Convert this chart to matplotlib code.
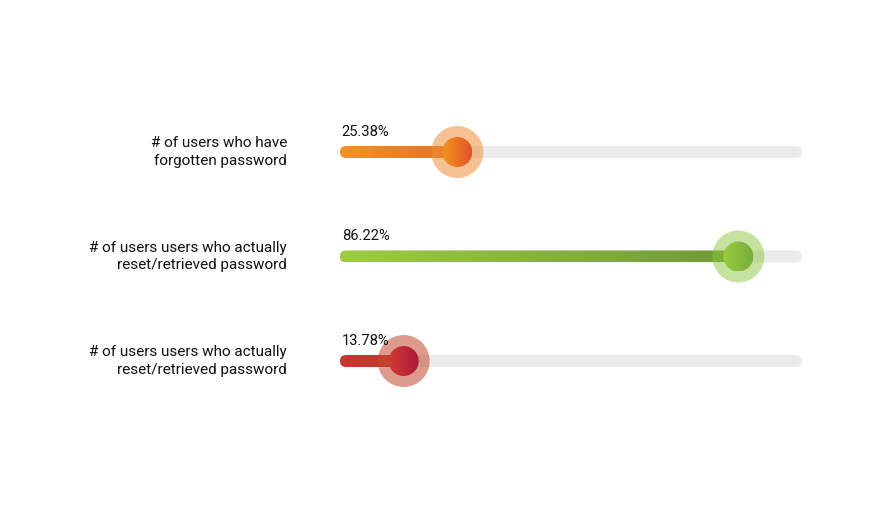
import numpy as np
import matplotlib
matplotlib.use("Agg")
import matplotlib.pyplot as plt
from matplotlib.patches import FancyBboxPatch, Circle
from matplotlib.colors import LinearSegmentedColormap, to_rgba

# ---- data ----
categories = ["# of users who have\nforgotten password",
              "# of users users who actually\nreset/retrieved password",
              "# of users users who actually\nreset/retrieved password"]
values = [25.38, 86.22, 13.78]
value_labels = ["25.38%", "86.22%", "13.78%"]

# ---- styles ----
bar_grad = [("#F39324", "#E3702A"), ("#9DCC43", "#6E993A"), ("#C9352C", "#C13A2F")]
knob_grad = [("#F7951E", "#DE5529"), ("#9CCC40", "#76AD3C"), ("#D33B33", "#A8193B")]
halo_col = ["#F0903A", "#8DC63F", "#C14A2F"]
halo_alpha = [0.55, 0.5, 0.55]
track_col = "#EBEBEB"

W, H = 877, 515
fig = plt.figure(figsize=(W / 100, H / 100), dpi=100)
ax_left, ax_w = 340, 462
ax_bot, ax_h = 100, 330
ax = fig.add_axes([ax_left / W, ax_bot / H, ax_w / W, ax_h / H])
px = ax_w / 100.0          # pixels per data unit
ax.set_xlim(0, 100)
ax.set_ylim(0, ax_h / px)
ax.set_aspect("equal")
ax.axis("off")

step = 104.5 / px
y0 = 54 / px
ys = [y0 + step * (len(values) - 1 - i) for i in range(len(values))]
hh = 6 / px                # bar half height
r_out = 26 / px
r_in = 15 / px

font = "Roboto"

for i, (cat, v, lab, y) in enumerate(zip(categories, values, value_labels, ys)):
    # track
    tr = FancyBboxPatch((0, y - hh), 100, 2 * hh,
                        boxstyle=f"round,pad=0,rounding_size={hh}",
                        fc=track_col, ec="none", zorder=1)
    ax.add_patch(tr)
    # gradient bar
    cmap = LinearSegmentedColormap.from_list(f"b{i}", list(bar_grad[i]))
    grad = np.linspace(0, 1, 256).reshape(1, -1)
    im = ax.imshow(grad, cmap=cmap, extent=(0, v, y - hh, y + hh),
                   aspect="auto", zorder=2, interpolation="bicubic")
    clip = FancyBboxPatch((0, y - hh), v, 2 * hh,
                          boxstyle=f"round,pad=0,rounding_size={hh}",
                          fc="none", ec="none", transform=ax.transData)
    ax.add_patch(clip)
    im.set_clip_path(clip)
    # halo
    ax.add_patch(Circle((v, y), r_out, fc=to_rgba(halo_col[i], halo_alpha[i]),
                        ec="none", zorder=3))
    # knob
    kc = LinearSegmentedColormap.from_list(f"k{i}", list(knob_grad[i]))
    im2 = ax.imshow(grad, cmap=kc, extent=(v - r_in, v + r_in, y - r_in, y + r_in),
                    aspect="auto", zorder=4, interpolation="bicubic")
    kclip = Circle((v, y), r_in, fc="none", ec="none", transform=ax.transData)
    ax.add_patch(kclip)
    im2.set_clip_path(kclip)
    # value label
    ax.text(0.4, y + 2.9, lab, ha="left", va="bottom", fontsize=10.6,
            family=font, color="#111111", zorder=5)
    # category label
    ax.text(-53 / px, y, cat, ha="right", va="center", fontsize=11,
            family=font, color="#111111", linespacing=1.3, clip_on=False)

fig.savefig("out.png", dpi=100, facecolor="white")
